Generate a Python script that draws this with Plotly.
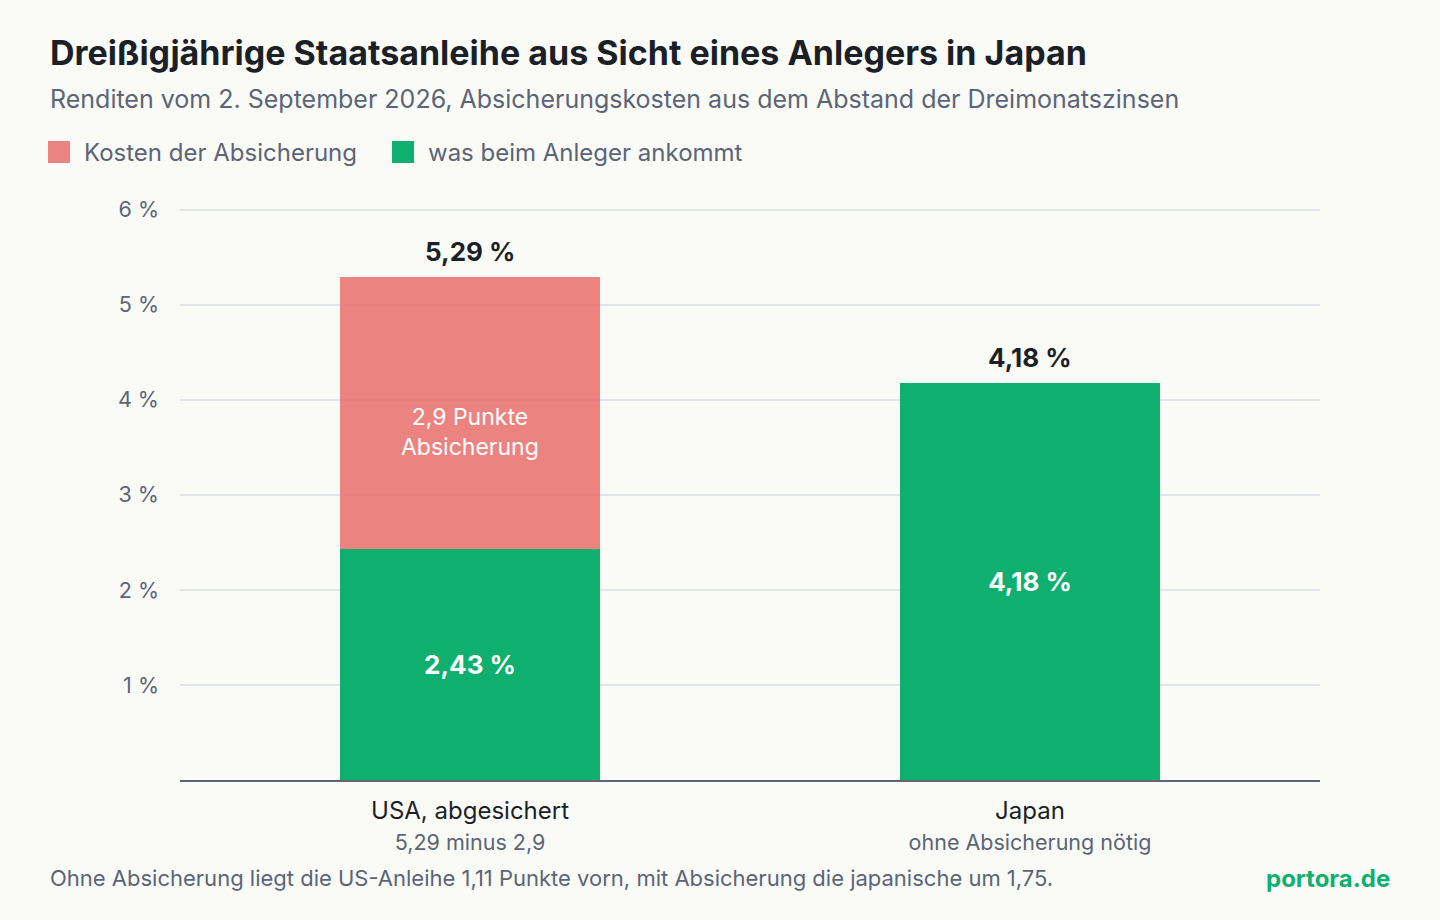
import plotly.graph_objects as go

# ---- data ----
categories = ["USA, abgesichert", "Japan"]
category_notes = ["5,29 minus 2,9", "ohne Absicherung nötig"]
net_yield = [2.43, 4.18]          # was beim Anleger ankommt
hedge_cost = [2.86, 0.0]          # Kosten der Absicherung
gross_yield = [5.29, 4.18]
y_ticks = [1, 2, 3, 4, 5, 6]

title = "Dreißigjährige Staatsanleihe aus Sicht eines Anlegers in Japan"
subtitle = "Renditen vom 2. September 2026, Absicherungskosten aus dem Abstand der Dreimonatszinsen"
footer = "Ohne Absicherung liegt die US-Anleihe 1,11 Punkte vorn, mit Absicherung die japanische um 1,75."
source = "portora.de"
legend_names = ["Kosten der Absicherung", "was beim Anleger ankommt"]

# ---- style ----
FONT = "Inter, 'Noto Sans', sans-serif"
BG = "#FAFAF6"
DARK = "#1B1F27"
GRAY = "#5B6577"
GREEN = "#0EAF6F"
RED = "rgba(231,110,107,0.85)"
W, H = 1440, 920
L, R, T, B = 180, 120, 208, 140
PW, PH = W - L - R, H - T - B


def px_x(p):
    return (p - L) / PW


def px_y(p):
    return (H - B - p) / PH


def de(v, d=2):
    return f"{v:.{d}f}".replace(".", ",")


tick_text = [f"{c}<br><span style='font-size:21.5px;color:{GRAY}'>{n}</span>"
             for c, n in zip(categories, category_notes)]

fig = go.Figure()
fig.add_trace(go.Bar(
    x=categories, y=net_yield, name=legend_names[1], marker_color=GREEN,
    marker_line_width=0, width=0.464, showlegend=False,
    text=[f"<b>{de(v)} %</b>" for v in net_yield], textposition="inside",
    insidetextanchor="middle", textangle=0,
    textfont=dict(family=FONT, size=26, color="white"),
))
fig.add_trace(go.Bar(
    x=categories, y=hedge_cost, name=legend_names[0], marker_color=RED,
    marker_line_width=0, width=0.464, showlegend=False,
))

annotations = []
for c, g in zip(categories, gross_yield):
    annotations.append(dict(x=c, y=g, xref="x", yref="y", text=f"<b>{de(g)} %</b>",
                            showarrow=False, yanchor="bottom", yshift=8,
                            font=dict(family=FONT, size=26, color=DARK)))
# label inside the hedge-cost segment
for c, n, h in zip(categories, net_yield, hedge_cost):
    if h > 0:
        annotations.append(dict(x=c, y=n + h / 2, xref="x", yref="y",
                                text=f"{de(h, 1)} Punkte<br>Absicherung",
                                showarrow=False, yanchor="middle", yshift=-19,
                                font=dict(family=FONT, size=23, color="white")))

annotations += [
    dict(x=px_x(48), y=px_y(52), xref="paper", yref="paper", xanchor="left", yanchor="middle",
         text=f"<b>{title}</b>", showarrow=False, font=dict(family=FONT, size=34, color=DARK)),
    dict(x=px_x(48), y=px_y(99), xref="paper", yref="paper", xanchor="left", yanchor="middle",
         text=subtitle, showarrow=False, font=dict(family=FONT, size=25, color=GRAY)),
    dict(x=px_x(48), y=px_y(878), xref="paper", yref="paper", xanchor="left", yanchor="middle",
         text=footer, showarrow=False, font=dict(family=FONT, size=22, color=GRAY)),
    dict(x=px_x(1392), y=px_y(878), xref="paper", yref="paper", xanchor="right", yanchor="middle",
         text=f"<b>{source}</b>", showarrow=False, font=dict(family=FONT, size=24, color=GREEN)),
]

# legend (manual, to get large square swatches)
shapes = []
legend_items = [(48, RED, legend_names[0]), (392, GREEN, legend_names[1])]
for x0, col, name in legend_items:
    shapes.append(dict(type="rect", xref="paper", yref="paper",
                       x0=px_x(x0), x1=px_x(x0 + 22), y0=px_y(141), y1=px_y(163),
                       fillcolor=col, line_width=0))
    annotations.append(dict(x=px_x(x0 + 34), y=px_y(152), xref="paper", yref="paper",
                            xanchor="left", yanchor="middle", text=name, showarrow=False,
                            font=dict(family=FONT, size=24, color=GRAY)))

fig.update_layout(
    width=W, height=H, barmode="stack", bargap=0,
    paper_bgcolor=BG, plot_bgcolor=BG,
    margin=dict(l=L, r=R, t=T, b=B),
    font=dict(family=FONT, color=DARK),
    separators=",.",
    annotations=annotations, shapes=shapes,
    xaxis=dict(type="category", range=[-0.518, 1.518], tickvals=categories, ticktext=tick_text,
               showline=True, linecolor="#5F6775", linewidth=2, ticks="",
               tickfont=dict(family=FONT, size=24, color=DARK), showgrid=False,
               ticklabelstandoff=8),
    yaxis=dict(range=[0, 6.02], tickvals=y_ticks, ticktext=[f"{t} %" for t in y_ticks],
               showgrid=True, gridcolor="#E2E4EC", gridwidth=1.5, zeroline=False,
               tickfont=dict(family=FONT, size=21.5, color=GRAY), ticks="",
               ticklabelstandoff=20),
)

fig.write_html(
    "out.html",
    config={"displayModeBar": False},
    post_script="document.body.style.margin='0';document.body.style.background='#FAFAF6';",
)
